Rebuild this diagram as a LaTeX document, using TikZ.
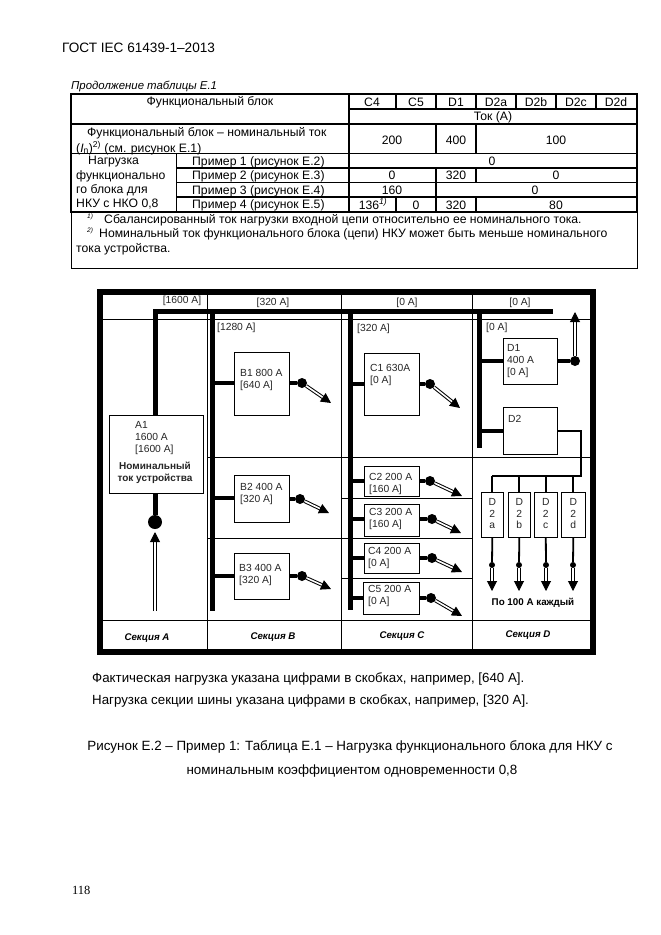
\documentclass[tikz,border=0pt]{standalone}
\usepackage{fontspec}
\setmainfont{Liberation Sans}
\newfontfamily\pagenofont{Liberation Serif}
\usetikzlibrary{arrows.meta,positioning,calc}

\begin{document}
\begin{tikzpicture}[
    x=1pt, y=-1pt,
    txt/.style={inner sep=0pt, yshift=-1pt, font=\fontsize{12.2}{14}\selectfont},
    ltxt/.style={txt, anchor=west},
    ptxt/.style={ltxt, font=\fontsize{13.3}{15}\selectfont},
    dtxt/.style={ltxt, font=\fontsize{10.3}{11.8}\selectfont, text=black!85},
    ctxt/.style={txt, font=\fontsize{10.3}{11.8}\selectfont, text=black!85},
    sect/.style={txt, font=\fontsize{9.7}{11}\selectfont\bfseries\itshape},
    unit/.style={rectangle, draw, line width=0.6pt, fill=white, inner sep=0pt, anchor=north west},
    rule/.style={line width=1.5pt},
    thinrule/.style={line width=0.6pt},
    frame/.style={line width=6.5pt},
    bus/.style={line width=5pt},
    tap/.style={line width=4pt},
    wire/.style={line width=1.8pt},
    dot/.style={circle, fill=black, inner sep=0pt, minimum size=10pt},
    smalldot/.style={circle, fill=black, inner sep=0pt, minimum size=6pt},
    outarrow/.style={double=white, draw=black, line width=1pt, double distance=1.6pt,
      -{Triangle[length=10pt, width=10pt]}},
  ]
    \useasboundingbox (0,0) rectangle (661,935);

    % Page text
    \node[ptxt, font=\fontsize{13.6}{15}\selectfont] (head) at (62,47) {ГОСТ IEC 61439-1–2013};
    \node[ptxt, font=\fontsize{11.4}{13}\selectfont\itshape] (cont) at (71,85) {Продолжение таблицы Е.1};

    % Table rules
    \draw[rule] (71,94) rectangle (637,212);
    \draw[line width=1pt] (71,212) -- (71,268) -- (637,268) -- (637,212);
    \draw[rule] (349,94) -- (349,212);
    \draw[rule] (349,109) -- (637,109);
    \draw[rule] (71,124) -- (637,124);
    \draw[line width=1pt] (71,153) -- (637,153);
    \draw[rule] (176,168) -- (637,168);
    \draw[line width=1pt] (176,182) -- (637,182);
    \draw[rule] (176,197) -- (637,197);
    \draw[line width=1pt] (176,153) -- (176,212);
    \draw[rule] (396,94) -- (396,109);
    \draw[rule] (396,197) -- (396,212);
    \draw[rule] (436,94) -- (436,109);
    \draw[rule] (436,124) -- (436,153);
    \draw[rule] (436,168) -- (436,212);
    \draw[rule] (476,94) -- (476,109);
    \draw[rule] (476,124) -- (476,153);
    \draw[rule] (476,168) -- (476,182);
    \draw[rule] (476,197) -- (476,212);
    \draw[rule] (516,94) -- (516,109);
    \draw[rule] (556,94) -- (556,109);
    \draw[rule] (596,94) -- (596,109);

    % Table text
    \node[txt] (fblock) at (210,101) {Функциональный блок};
    \node[txt] (c4) at (372,101) {C4};
    \node[txt] (c5) at (416,101) {C5};
    \node[txt] (d1) at (456,101) {D1};
    \node[txt] (d2a) at (496,101) {D2a};
    \node[txt] (d2b) at (536,101) {D2b};
    \node[txt] (d2c) at (576,101) {D2c};
    \node[txt] (d2d) at (616,101) {D2d};
    \node[txt] (tok) at (493,116) {Ток (А)};
    \node[ltxt] (rated) at (87,132) {Функциональный блок – номинальный ток};
    \node[ltxt] (ratedb) at (76,147) {(\textit{I}\textsubscript{n})\textsuperscript{2)} (см. рисунок Е.1)};
    \node[txt] (v200) at (392,139) {200};
    \node[txt] (v400) at (456,139) {400};
    \node[txt] (v100) at (556,139) {100};
    \node[ltxt] (loada) at (88,161) {Нагрузка};
    \node[ltxt] (loadb) at (76,175) {функционально};
    \node[ltxt] (loadc) at (76,189) {го блока для};
    \node[ltxt] (loadd) at (76,203) {НКУ с НКО 0,8};
    \node[ltxt] (ex1) at (192,161) {Пример 1 (рисунок Е.2)};
    \node[ltxt] (ex2) at (192,175) {Пример 2 (рисунок Е.3)};
    \node[ltxt] (ex3) at (192,190) {Пример 3 (рисунок Е.4)};
    \node[ltxt] (ex4) at (192,204) {Пример 4 (рисунок Е.5)};
    \node[txt] (r1a) at (492,160) {0};
    \node[txt] (r2a) at (392,174) {0};
    \node[txt] (r2b) at (456,174) {320};
    \node[txt] (r2c) at (556,174) {0};
    \node[txt] (r3a) at (392,189) {160};
    \node[txt] (r3b) at (535,189) {0};
    \node[txt] (r4a) at (373,203) {136\textsuperscript{\itshape 1)}};
    \node[txt] (r4b) at (416,204) {0};
    \node[txt] (r4c) at (456,204) {320};
    \node[txt] (r4d) at (556,204) {80};
    \node[ltxt, font=\fontsize{6.5}{8}\selectfont\itshape] (fn1) at (87,216) {1)};
    \node[ltxt] (fna) at (104,219) {Сбалансированный ток нагрузки входной цепи относительно ее номинального тока.};
    \node[ltxt, font=\fontsize{6.5}{8}\selectfont\itshape] (fn2) at (87,230) {2)};
    \node[ltxt] (fnb) at (99,233) {Номинальный ток функционального блока (цепи) НКУ может быть меньше номинального};
    \node[ltxt] (fnc) at (76,248) {тока устройства.};

    % Frame and section lines
    \draw[thinrule] (100,319) -- (593,319);
    \draw[thinrule] (100,620) -- (593,620);
    \draw[thinrule] (207,292) -- (207,652);
    \draw[thinrule] (341,292) -- (341,652);
    \draw[thinrule] (472,292) -- (472,652);
    \draw[thinrule] (207,457) -- (593,457);
    \draw[thinrule] (207,538) -- (472,538);
    \draw[thinrule] (341,498) -- (472,498);
    \draw[thinrule] (341,578) -- (472,578);
    \draw[frame] (100,292) rectangle (593,652);

    % Units
    \node[unit, minimum width=94pt, minimum height=78pt] (a1) at (109,415) {};
    \node[unit, minimum width=55pt, minimum height=63pt] (b1) at (234,352) {};
    \node[unit, minimum width=55pt, minimum height=47pt] (b2) at (234,475) {};
    \node[unit, minimum width=55pt, minimum height=46pt] (b3) at (234,553) {};
    \node[unit, minimum width=55pt, minimum height=62pt] (c1) at (364,353) {};
    \node[unit, minimum width=55pt, minimum height=30pt] (c2) at (364,466) {};
    \node[unit, minimum width=55pt, minimum height=32pt] (c3) at (364,504) {};
    \node[unit, minimum width=55pt, minimum height=30pt] (c4box) at (364,543) {};
    \node[unit, minimum width=56pt, minimum height=32pt] (c5box) at (363,582) {};
    \node[unit, minimum width=54pt, minimum height=46pt] (d1box) at (503,338) {};
    \node[unit, minimum width=54pt, minimum height=47pt] (d2) at (503,407) {};
    \node[unit, minimum width=22pt, minimum height=45pt] (da) at (481,492) {};
    \node[unit, minimum width=22pt, minimum height=45pt] (db) at (508,492) {};
    \node[unit, minimum width=23pt, minimum height=45pt] (dc) at (534,492) {};
    \node[unit, minimum width=24pt, minimum height=45pt] (dd) at (561,492) {};

    % Bus bars
    \coordinate (busa) at (155,311);
    \coordinate (busb) at (212,311);
    \coordinate (busc) at (350,311);
    \coordinate (busd) at (479,311);
    \coordinate (busend) at (553,311);
    \coordinate (bendb) at (212,611);
    \coordinate (bendc) at (350,610);
    \coordinate (bendd) at (479,448);
    \draw[bus] (a1.north -| busa) -- (busa) -- (busend);
    \draw[bus] (busb) -- (bendb);
    \draw[bus] (busc) -- (bendc);
    \draw[bus] (busd) -- (bendd);

    % Tap-offs
    \coordinate (tb1) at (212,383);
    \coordinate (tb2) at (212,498);
    \coordinate (tb3) at (212,576);
    \coordinate (tc1) at (350,384);
    \coordinate (tc2) at (350,481);
    \coordinate (tc3) at (350,519);
    \coordinate (tc4) at (350,558);
    \coordinate (tc5) at (350,598);
    \coordinate (td1) at (479,361);
    \coordinate (td2) at (479,431);
    \draw[tap] (tb1) -- (tb1 -| b1.west);
    \draw[tap] (tb2) -- (tb2 -| b2.west);
    \draw[tap] (tb3) -- (tb3 -| b3.west);
    \draw[tap] (tc1) -- (tc1 -| c1.west);
    \draw[tap] (tc2) -- (tc2 -| c2.west);
    \draw[tap] (tc3) -- (tc3 -| c3.west);
    \draw[tap] (tc4) -- (tc4 -| c4box.west);
    \draw[tap] (tc5) -- (tc5 -| c5box.west);
    \draw[tap] (td1) -- (td1 -| d1box.west);
    \draw[tap] (td2) -- (td2 -| d2.west);

    % Outgoing circuits
    \node[dot] (pb1) at (302,383) {};
    \node[dot] (pb2) at (300,499) {};
    \node[dot] (pb3) at (302,576) {};
    \node[dot] (pc1) at (430,384) {};
    \node[dot] (pc2) at (430,481) {};
    \node[dot] (pc3) at (432,519) {};
    \node[dot] (pc4) at (432,558) {};
    \node[dot] (pc5) at (431,598) {};
    \node[dot] (pd1) at (575,361) {};
    \node[dot, minimum size=14pt] (pa1) at (155,522) {};
    \coordinate (ob1) at (331,403);
    \coordinate (ob2) at (329,513);
    \coordinate (ob3) at (331,589);
    \coordinate (oc1) at (460,408);
    \coordinate (oc2) at (462,496);
    \coordinate (oc3) at (461,533);
    \coordinate (oc4) at (462,572);
    \coordinate (oc5) at (462,616);
    \coordinate (od1) at (575,312);
    \coordinate (ina1) at (155,611);
    \coordinate (ina2) at (155,532);
    \draw[tap] (b1.east |- pb1) -- (pb1);
    \draw[tap] (b2.east |- pb2) -- (pb2);
    \draw[tap] (b3.east |- pb3) -- (pb3);
    \draw[tap] (c1.east |- pc1) -- (pc1);
    \draw[tap] (c2.east |- pc2) -- (pc2);
    \draw[tap] (c3.east |- pc3) -- (pc3);
    \draw[tap] (c4box.east |- pc4) -- (pc4);
    \draw[tap] (c5box.east |- pc5) -- (pc5);
    \draw[tap] (d1box.east |- pd1) -- (pd1);
    \draw[bus] (a1.south -| pa1) -- (pa1);
    \draw[outarrow] (pb1) -- (ob1);
    \draw[outarrow] (pb2) -- (ob2);
    \draw[outarrow] (pb3) -- (ob3);
    \draw[outarrow] (pc1) -- (oc1);
    \draw[outarrow] (pc2) -- (oc2);
    \draw[outarrow] (pc3) -- (oc3);
    \draw[outarrow] (pc4) -- (oc4);
    \draw[outarrow] (pc5) -- (oc5);
    \draw[outarrow] (pd1) -- (od1);
    \draw[outarrow] (ina1) -- (ina2);

    % D2 group
    \coordinate (feed) at (581,476);
    \draw[wire] (d2.east |- td2) -| (feed) -- (feed -| da.north);
    \draw[wire] (da.north |- feed) -- (da.north);
    \draw[wire] (db.north |- feed) -- (db.north);
    \draw[wire] (dc.north |- feed) -- (dc.north);
    \draw[wire] (dd.north |- feed) -- (dd.north);
    \node[smalldot] (pda) at (492,565) {};
    \node[smalldot] (pdb) at (519,565) {};
    \node[smalldot] (pdc) at (546,565) {};
    \node[smalldot] (pdd) at (573,565) {};
    \draw[wire] (da.south) -- (pda);
    \draw[wire] (db.south) -- (pdb);
    \draw[wire] (dc.south) -- (pdc);
    \draw[wire] (dd.south) -- (pdd);
    \coordinate (oda) at (492,591);
    \coordinate (odb) at (519,591);
    \coordinate (odc) at (546,591);
    \coordinate (odd) at (573,591);
    \draw[outarrow] (pda) -- (oda);
    \draw[outarrow] (pdb) -- (odb);
    \draw[outarrow] (pdc) -- (odc);
    \draw[outarrow] (pdd) -- (odd);

    % Diagram labels
    \node[ctxt] (la) at (182,300) {[1600 A]};
    \node[ctxt] (lb) at (273,302) {[320 A]};
    \node[ctxt] (lc) at (407,302) {[0 A]};
    \node[ctxt] (ld) at (520,302) {[0 A]};
    \node[dtxt] (lbb) at (217,327) {[1280 A]};
    \node[dtxt] (lcc) at (357,328) {[320 A]};
    \node[dtxt] (ldd) at (486,327) {[0 A]};
    \node[dtxt, align=left] (ta1) at (135,437) {A1\\1600 A\\{[1600 A]}};
    \node[ctxt, align=center, font=\fontsize{10}{12.2}\selectfont\bfseries] (ta2) at (155,472) {Номинальный\\ток устройства};
    \node[dtxt, align=left] (tb1t) at (240,379) {B1 800 A\\{[640 A]}};
    \node[dtxt, align=left] (tb2t) at (240,493) {B2 400 A\\{[320 A]}};
    \node[dtxt, align=left] (tb3t) at (239,574) {B3 400 A\\{[320 A]}};
    \node[dtxt, align=left] (tc1t) at (370,374) {C1 630A\\{[0 A]}};
    \node[dtxt, align=left] (tc2t) at (369,483) {C2 200 A\\{[160 A]}};
    \node[dtxt, align=left] (tc3t) at (369,518) {C3 200 A\\{[160 A]}};
    \node[dtxt, align=left] (tc4t) at (368,557) {C4 200 A\\{[0 A]}};
    \node[dtxt, align=left] (tc5t) at (368,595) {C5 200 A\\{[0 A]}};
    \node[dtxt, align=left] (td1t) at (507,360) {D1\\400 A\\{[0 A]}};
    \node[dtxt] (td2t) at (508,418) {D2};
    \node[ctxt, align=center, anchor=north, yshift=-5pt] (tda) at (da.north) {D\\2\\a};
    \node[ctxt, align=center, anchor=north, yshift=-5pt] (tdb) at (db.north) {D\\2\\b};
    \node[ctxt, align=center, anchor=north, yshift=-5pt] (tdc) at (dc.north) {D\\2\\c};
    \node[ctxt, align=center, anchor=north, yshift=-5pt] (tdd) at (dd.north) {D\\2\\d};
    \node[txt, font=\fontsize{9.8}{11}\selectfont\bfseries] (each) at (533,602) {По 100 А каждый};
    \node[sect] (sa) at (147,637) {Секция A};
    \node[sect] (sb) at (273,636) {Секция B};
    \node[sect] (sc) at (402,635) {Секция C};
    \node[sect] (sd) at (528,634) {Секция D};

    % Text under the diagram
    \node[ptxt] (notea) at (92,678) {Фактическая нагрузка указана цифрами в скобках, например, [640 А].};
    \node[ptxt] (noteb) at (92,700) {Нагрузка секции шины указана цифрами в скобках, например, [320 А].};
    \node[txt, font=\fontsize{13.4}{15}\selectfont] (capa) at (350,746) {Рисунок Е.2 – Пример 1: Таблица Е.1 – Нагрузка функционального блока для НКУ с};
    \node[txt, font=\fontsize{13.4}{15}\selectfont] (capb) at (352,770) {номинальным коэффициентом одновременности 0,8};
    \node[ltxt, font=\fontsize{12.5}{14}\selectfont\pagenofont] (pageno) at (72,889) {118};
  \end{tikzpicture}
\end{document}
